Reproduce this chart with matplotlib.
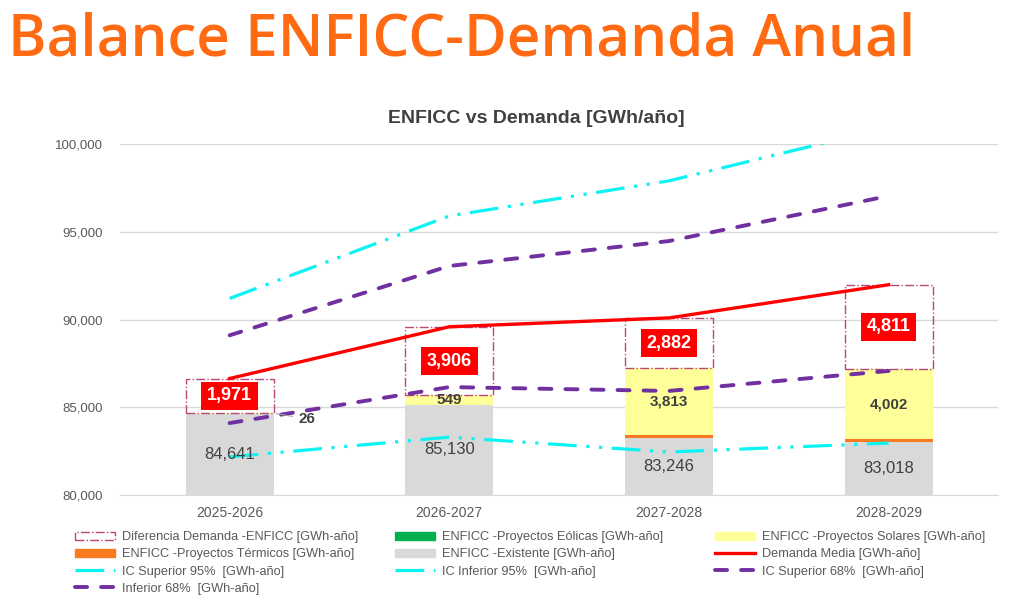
import matplotlib
matplotlib.use("Agg")
import matplotlib.pyplot as plt
from matplotlib.patches import Patch
from matplotlib.lines import Line2D
import numpy as np

plt.rcParams['font.family'] = ['Liberation Sans', 'DejaVu Sans']

years = ["2025-2026", "2026-2027", "2027-2028", "2028-2029"]
existente = [84641, 85130, 83246, 83018]
termicos = [0, 0, 150, 150]
eolicas = [0, 0, 0, 0]
solares = [26, 549, 3813, 4002]
diferencia = [1971, 3906, 2882, 4811]
demanda_media = [86638, 89585, 90091, 91981]
ic_sup_95 = [91200, 95900, 97900, 100950]
ic_inf_95 = [82170, 83300, 82450, 82960]
ic_sup_68 = [89100, 93050, 94470, 97040]
ic_inf_68 = [84100, 86150, 85930, 87070]

GREY = "#D9D9D9"
YELLOW = "#FFFF99"
ORANGE = "#F97A1F"
GREEN = "#00B050"
RED = "#FF0000"
CYAN = "#0DF2F2"
PURPLE = "#7030A0"
BOX = "#B8477A"
TXT = "#595959"

CY_DASH = (9, 3, 1, 3, 1, 3)
PU_DASH = (3.1, 3.6)

fig = plt.figure(figsize=(10.24, 5.99), dpi=100)
fig.text(0.008, 0.933, "Balance ENFICC-Demanda Anual", fontsize=42, color="#FF6A13",
         fontweight="semibold", family=["Open Sans", "DejaVu Sans"], va="center")
fig.text(0.524, 0.803, "ENFICC vs Demanda [GWh/año]", fontsize=14, fontweight="bold",
         color="#404040", ha="center", va="center")

ax = fig.add_axes([0.117, 0.1736, 0.858, 0.586])
x = np.arange(len(years))
w = 0.4

ax.bar(x, existente, w, color=GREY, zorder=2)
b1 = np.array(existente)
ax.bar(x, termicos, w, bottom=b1, color=ORANGE, zorder=2)
b2 = b1 + np.array(termicos)
ax.bar(x, eolicas, w, bottom=b2, color=GREEN, zorder=2)
b3 = b2 + np.array(eolicas)
ax.bar(x, solares, w, bottom=b3, color=YELLOW, zorder=2)
b4 = b3 + np.array(solares)
ax.bar(x, diferencia, w, bottom=b4, facecolor="none", edgecolor=BOX,
       linestyle="-.", linewidth=1.0, zorder=2)

ax.plot(x, demanda_media, color=RED, lw=2.4, zorder=4)
ax.plot(x, ic_sup_95, color=CYAN, lw=2.3, dashes=CY_DASH, zorder=3)
ax.plot(x, ic_inf_95, color=CYAN, lw=2.3, dashes=CY_DASH, zorder=3)
ax.plot(x, ic_sup_68, color=PURPLE, lw=2.8, dashes=PU_DASH, dash_capstyle="round", zorder=3)
ax.plot(x, ic_inf_68, color=PURPLE, lw=2.8, dashes=PU_DASH, dash_capstyle="round", zorder=3)

# etiquetas
for i in range(len(years)):
    ax.text(x[i], 80000 + (existente[i] - 80000) / 2, f"{existente[i]:,}",
            ha="center", va="center", fontsize=12, color="#404040", zorder=5)
    if solares[i] > 100:
        ax.text(x[i], b3[i] + solares[i] / 2, f"{solares[i]:,}", ha="center", va="center",
                fontsize=11, fontweight="bold", color="#404040", zorder=5)
    ax.text(x[i], b4[i] + diferencia[i] / 2, f"{diferencia[i]:,}", ha="center", va="center",
            fontsize=13, fontweight="bold", color="white", zorder=6,
            bbox=dict(boxstyle="square,pad=0.32", facecolor=RED, edgecolor="none"))
ax.annotate(f"{solares[0]:,}", xy=(x[0] + w / 2, b4[0]), xytext=(x[0] + 0.35, b4[0] - 330),
            ha="center", va="center", fontsize=11, fontweight="bold", color="#404040",
            arrowprops=dict(arrowstyle="-", color="#A6A6A6", lw=0.8), zorder=5)

ax.set_xlim(-0.5, 3.5)
ax.set_ylim(80000, 100000)
ax.set_yticks(np.arange(80000, 100001, 5000))
ax.yaxis.set_major_formatter(matplotlib.ticker.FuncFormatter(lambda v, p: f"{int(v):,}"))
ax.set_xticks(x)
ax.set_xticklabels(years)
ax.tick_params(axis="y", length=0, colors=TXT, labelsize=9.5, pad=12)
ax.tick_params(axis="x", length=0, colors=TXT, labelsize=10, pad=8)
ax.grid(axis="y", color="#D9D9D9", lw=1, zorder=0)
for s in ["top", "right", "left"]:
    ax.spines[s].set_visible(False)
ax.spines["bottom"].set_color("#D9D9D9")

cols = [
    [(Patch(facecolor="none", edgecolor=BOX, linestyle="-.", lw=1.0), "Diferencia Demanda -ENFICC [GWh-año]"),
     (Patch(color=ORANGE), "ENFICC -Proyectos Térmicos [GWh-año]"),
     (Line2D([], [], color=CYAN, lw=2.3, dashes=CY_DASH), "IC Superior 95%  [GWh-año]"),
     (Line2D([], [], color=PURPLE, lw=2.8, dashes=PU_DASH, dash_capstyle="round"), "Inferior 68%  [GWh-año]")],
    [(Patch(color=GREEN), "ENFICC -Proyectos Eólicas [GWh-año]"),
     (Patch(color=GREY), "ENFICC -Existente [GWh-año]"),
     (Line2D([], [], color=CYAN, lw=2.3, dashes=CY_DASH), "IC Inferior 95%  [GWh-año]")],
    [(Patch(color=YELLOW), "ENFICC -Proyectos Solares [GWh-año]"),
     (Line2D([], [], color=RED, lw=2.4), "Demanda Media [GWh-año]"),
     (Line2D([], [], color=PURPLE, lw=2.8, dashes=PU_DASH, dash_capstyle="round"), "IC Superior 68%  [GWh-año]")],
]
xpos = [0.0732, 0.3857, 0.6982]
for xp, col in zip(xpos, cols):
    leg = fig.legend([h for h, _ in col], [l for _, l in col], loc="upper left",
                     bbox_to_anchor=(xp, 0.113), frameon=False, fontsize=9.2,
                     handlelength=3.1, handleheight=0.6, labelspacing=0.4,
                     borderpad=0, borderaxespad=0, handletextpad=0.55)
    for t in leg.get_texts():
        t.set_color(TXT)

fig.savefig("out.png", dpi=100)
